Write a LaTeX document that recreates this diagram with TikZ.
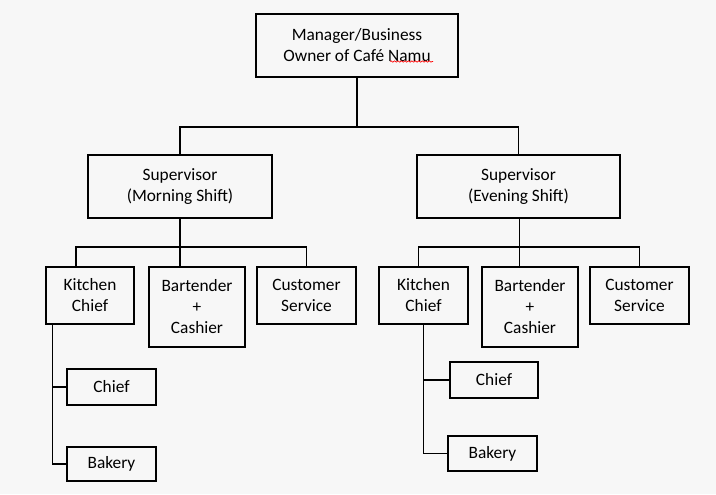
\documentclass[tikz,border=0pt]{standalone}
\usepackage{fontspec}
\setmainfont{Carlito}
\usetikzlibrary{decorations.pathmorphing}

\begin{document}
\begin{tikzpicture}[x=0.75pt,y=0.75pt,yscale=-1,xscale=1]
                \tikzset{box/.style={draw, line width=0.8pt, align=center, inner sep=0pt, font=\fontsize{13}{15.75}\selectfont},
                         wire/.style={line width=0.8pt}}
                %set diagram to 716 x 494
                \fill[black!3] (0,0) rectangle (716,494);
                \useasboundingbox (0,0) rectangle (716,494);
                
                %Shape: Rectangle [top]
                \node[box, minimum width=151.5pt, minimum height=47.25pt] (owner) at (357,45.5) {Manager/Business\\Owner of Café Namu};
                \draw[red, line width=0.5pt, decorate, decoration={snake, amplitude=0.5pt, segment length=2.6pt}] (390,61.5) -- (433,61.5);
                
                %Shape: Rectangle [supervisors]
                \node[box, minimum width=138pt, minimum height=47.25pt] (supMorn) at (180,186.5) {Supervisor\\(Morning Shift)};
                \node[box, minimum width=152.25pt, minimum height=47.25pt] (supEve) at (518.5,186.5) {Supervisor\\(Evening Shift)};
                
                %Shape: Rectangle [morning staff]
                \node[box, minimum width=66pt, minimum height=42.75pt] (kitMorn) at (90,295.5) {Kitchen\\Chief};
                \node[box, minimum width=72pt, minimum height=60pt] (barMorn) at (197,307) {Bartender\\+\\Cashier};
                \node[box, minimum width=74.25pt, minimum height=42.75pt] (cusMorn) at (306.5,295.5) {Customer\\Service};
                \node[box, minimum width=66.75pt, minimum height=27pt] (chfMorn) at (111.5,387) {Chief};
                \node[box, minimum width=66.75pt, minimum height=25.5pt] (bakMorn) at (111.5,464) {Bakery};
                
                %Shape: Rectangle [evening staff]
                \node[box, minimum width=66.75pt, minimum height=42.75pt] (kitEve) at (423.5,295.5) {Kitchen\\Chief};
                \node[box, minimum width=72pt, minimum height=60pt] (barEve) at (530,307) {Bartender\\+\\Cashier};
                \node[box, minimum width=74.25pt, minimum height=42.75pt] (cusEve) at (639.5,295.5) {Customer\\Service};
                \node[box, minimum width=66pt, minimum height=27pt] (chfEve) at (494,380) {Chief};
                \node[box, minimum width=66.75pt, minimum height=26.25pt] (bakEve) at (492.5,453.5) {Bakery};
                
                %Straight Lines [owner to supervisors]
                \coordinate (busTop) at (357,127);
                \draw[wire] (owner.south) -- (busTop);
                \draw[wire] (supMorn.north) |- (busTop) -| (supEve.north);
                
                %Straight Lines [supervisors to staff]
                \coordinate (busMorn) at (180,247);
                \coordinate (busEve) at (520,247);
                \draw[wire] (supMorn.south) -- (supMorn.south |- barMorn.north);
                \draw[wire] ([xshift=-10.5pt]kitMorn.north) |- (busMorn) -| (cusMorn.north);
                \draw[wire] ([xshift=1pt]supEve.south) -- ([xshift=1pt]supEve.south |- barEve.north);
                \draw[wire] ([xshift=-4pt]kitEve.north) |- (busEve) -| (cusEve.north);
                
                %Straight Lines [kitchen branches]
                \coordinate (trunkMorn) at ([xshift=5.25pt]kitMorn.south west);
                \draw[wire] (trunkMorn) |- (bakMorn.west);
                \draw[wire] (chfMorn.west) -- (chfMorn.west -| trunkMorn);
                \coordinate (trunkEve) at (kitEve.south);
                \draw[wire] (trunkEve) |- (bakEve.west);
                \draw[wire] (chfEve.west) -- (chfEve.west -| trunkEve);
                
                \end{tikzpicture}
\end{document}
